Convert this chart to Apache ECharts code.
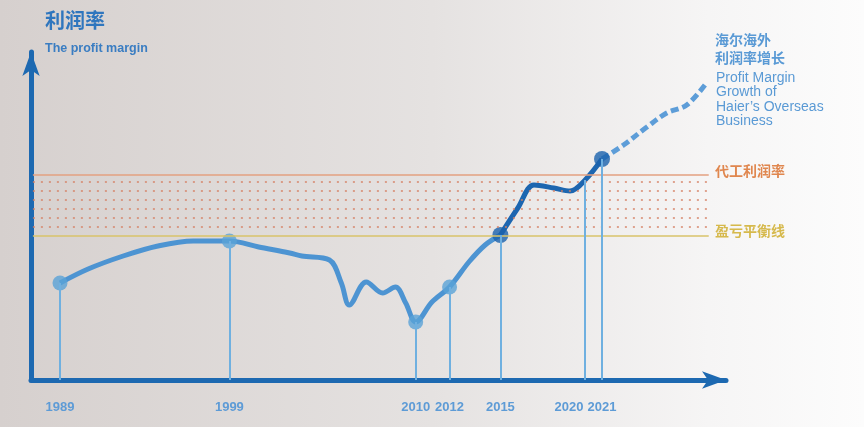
<!DOCTYPE html>
<html>
<head>
<meta charset="utf-8">
<script src="https://cdn.jsdelivr.net/npm/echarts@6/dist/echarts.min.js"></script>
<style>html,body{margin:0;padding:0;}#c{width:864px;height:427px;}</style>
</head>
<body>
<div id="c"></div>
<script>
// ---- data (years on x, relative profit-margin level on y) ----
const labelYears = [1989, 1999, 2010, 2012, 2015, 2020, 2021];
const earlyCurve = [[1989,9.7],[1990.66,11.1],[1992.73,12.4],[1994.78,13.4],[1996.87,13.9],[1999,13.9],[2000.73,13.3],[2002.56,12.7],[2003.28,12.4],[2004.91,12.0],[2005.61,9.7],[2006.08,7.5],[2007.08,9.8],[2008.05,8.7],[2008.8,9.3],[2009.41,7.7],[2010,5.8],[2010.96,7.8],[2012,9.3],[2013.14,11.8],[2014.1,13.5],[2015,14.5]];
const recentCurve = [[2015,14.5],[2016.03,17.2],[2016.98,19.5],[2018.15,19.2],[2019.11,18.9],[2020,20.0],[2021,22.1]];
const futureCurve = [[2021,22.1],[2022.27,23.5],[2023.65,25.3],[2024.82,26.7],[2026.0,27.5],[2027.17,29.7]];
const lightMarkers = [[1989,9.7],[1999,13.9],[2010,5.8],[2012,9.3]];
const darkMarkers = [[2015,14.5],[2021,22.1]];
const dropYears = [1989, 1999, 2010, 2012, 2015, 2020, 2021];
const dropValues = [9.7, 13.9, 5.8, 9.3, 14.5, 20.0, 22.1];
const oemMargin = 20.5;      // 代工利润率
const breakEven = 14.4;      // 盈亏平衡线
const bandRows = [19.8, 18.9, 18.0, 17.1, 16.2, 15.3];
const bandStart = 1987.4, bandEnd = 2027.3;

const chart = echarts.init(document.getElementById('c'));
const blue = '#1d69b1';
const labelFont = "'Liberation Sans', Arial, sans-serif";
const lblColor = '#5d9bd6';

const bandLines = [
  [{coord:[bandStart, oemMargin], lineStyle:{color:'#e3a080', width:1.6, type:'solid'}}, {coord:[bandEnd, oemMargin]}],
  [{coord:[bandStart, breakEven], lineStyle:{color:'#d9c36a', width:1.6, type:'solid'}}, {coord:[bandEnd, breakEven]}]
].concat(bandRows.map(v => [{coord:[bandStart, v], lineStyle:{color:'rgba(214,128,100,0.7)', width:2.2, type:[2,6]}}, {coord:[bandEnd, v]}]));

const drops = dropYears.map((y, i) => [{coord:[y, dropValues[i]]}, {coord:[y, 0]}]);

chart.setOption({
  animation: false,
  backgroundColor: new echarts.graphic.LinearGradient(0, 0, 1, 0, [
    {offset: 0, color: '#d6d0ce'},
    {offset: 0.5, color: '#e5e2e1'},
    {offset: 0.82, color: '#f6f5f5'},
    {offset: 1, color: '#fcfcfc'}
  ]),
  grid: {left: 31, right: 138, top: 52, bottom: 47},
  xAxis: {
    type: 'value', min: 1987.288, max: 2028.32,
    axisLine: {show: true, lineStyle: {color: blue, width: 5}, symbol: ['none', 'arrow'], symbolSize: [13, 24]},
    axisTick: {show: false},
    splitLine: {show: false},
    axisLabel: {
      customValues: labelYears, margin: 21, hideOverlap: false,
      formatter: v => (v === 2020 ? '{s|' + v + '}' : '{n|' + v + '}'),
      rich: {
        n: {fontFamily: labelFont, fontSize: 13, fontWeight: 'bold', color: lblColor},
        s: {fontFamily: labelFont, fontSize: 13, fontWeight: 'bold', color: lblColor, padding: [0, 32, 0, 0]}
      }
    }
  },
  yAxis: {
    type: 'value', min: 0, max: 32.8,
    axisLine: {show: true, lineStyle: {color: blue, width: 5}, symbol: ['none', 'arrow'], symbolSize: [13, 24]},
    axisTick: {show: false}, axisLabel: {show: false}, splitLine: {show: false}
  },
  graphic: [
    {type: 'text', left: 45, top: 10, style: {text: '利润率', font: "bold 20px 'Noto Sans CJK SC', sans-serif", fill: '#2f76be'}},
    {type: 'text', left: 45, top: 42, style: {text: 'The profit margin', font: "bold 12.5px 'Liberation Sans', Arial, sans-serif", fill: '#3a7dc2'}},
    {type: 'text', left: 715, top: 31, style: {text: '海尔海外\n利润率增长', font: "bold 14px 'Noto Sans CJK SC', sans-serif", lineHeight: 18, fill: '#5a9ad5'}},
    {type: 'text', left: 716, top: 71, style: {text: 'Profit Margin\nGrowth of\nHaier’s Overseas\nBusiness', font: "14px 'Liberation Sans', Arial, sans-serif", lineHeight: 14.3, fill: '#5a9ad5'}},
    {type: 'text', left: 715, top: 164, style: {text: '代工利润率', font: "bold 14px 'Noto Sans CJK SC', sans-serif", fill: '#e0874f'}},
    {type: 'text', left: 715, top: 224, style: {text: '盈亏平衡线', font: "bold 14px 'Noto Sans CJK SC', sans-serif", fill: '#d6b94c'}}
  ],
  series: [
    {
      type: 'line', data: [], silent: true, z: 1,
      markLine: {silent: true, symbol: 'none', label: {show: false}, data: bandLines}
    },
    {
      type: 'line', data: [], silent: true, z: 2,
      markLine: {silent: true, symbol: 'none', label: {show: false}, lineStyle: {color: '#6fb0e0', width: 2, type: 'solid'}, data: drops}
    },
    {type: 'line', data: earlyCurve, smooth: 0.35, showSymbol: false, z: 3, lineStyle: {color: '#4d94d2', width: 5}},
    {type: 'line', data: recentCurve, smooth: 0.35, showSymbol: false, z: 3, lineStyle: {color: '#1d66b0', width: 5}},
    {type: 'line', data: futureCurve, smooth: 0.35, showSymbol: false, z: 3, lineStyle: {color: '#5d9dd8', width: 5, type: [8, 4], cap: 'butt'}},
    {type: 'scatter', data: lightMarkers, symbolSize: 15, z: 4, itemStyle: {color: '#5aa2d7'}},
    {type: 'scatter', data: darkMarkers, symbolSize: 16, z: 4, itemStyle: {color: '#1a62ad'}}
  ]
});
</script>
</body>
</html>
